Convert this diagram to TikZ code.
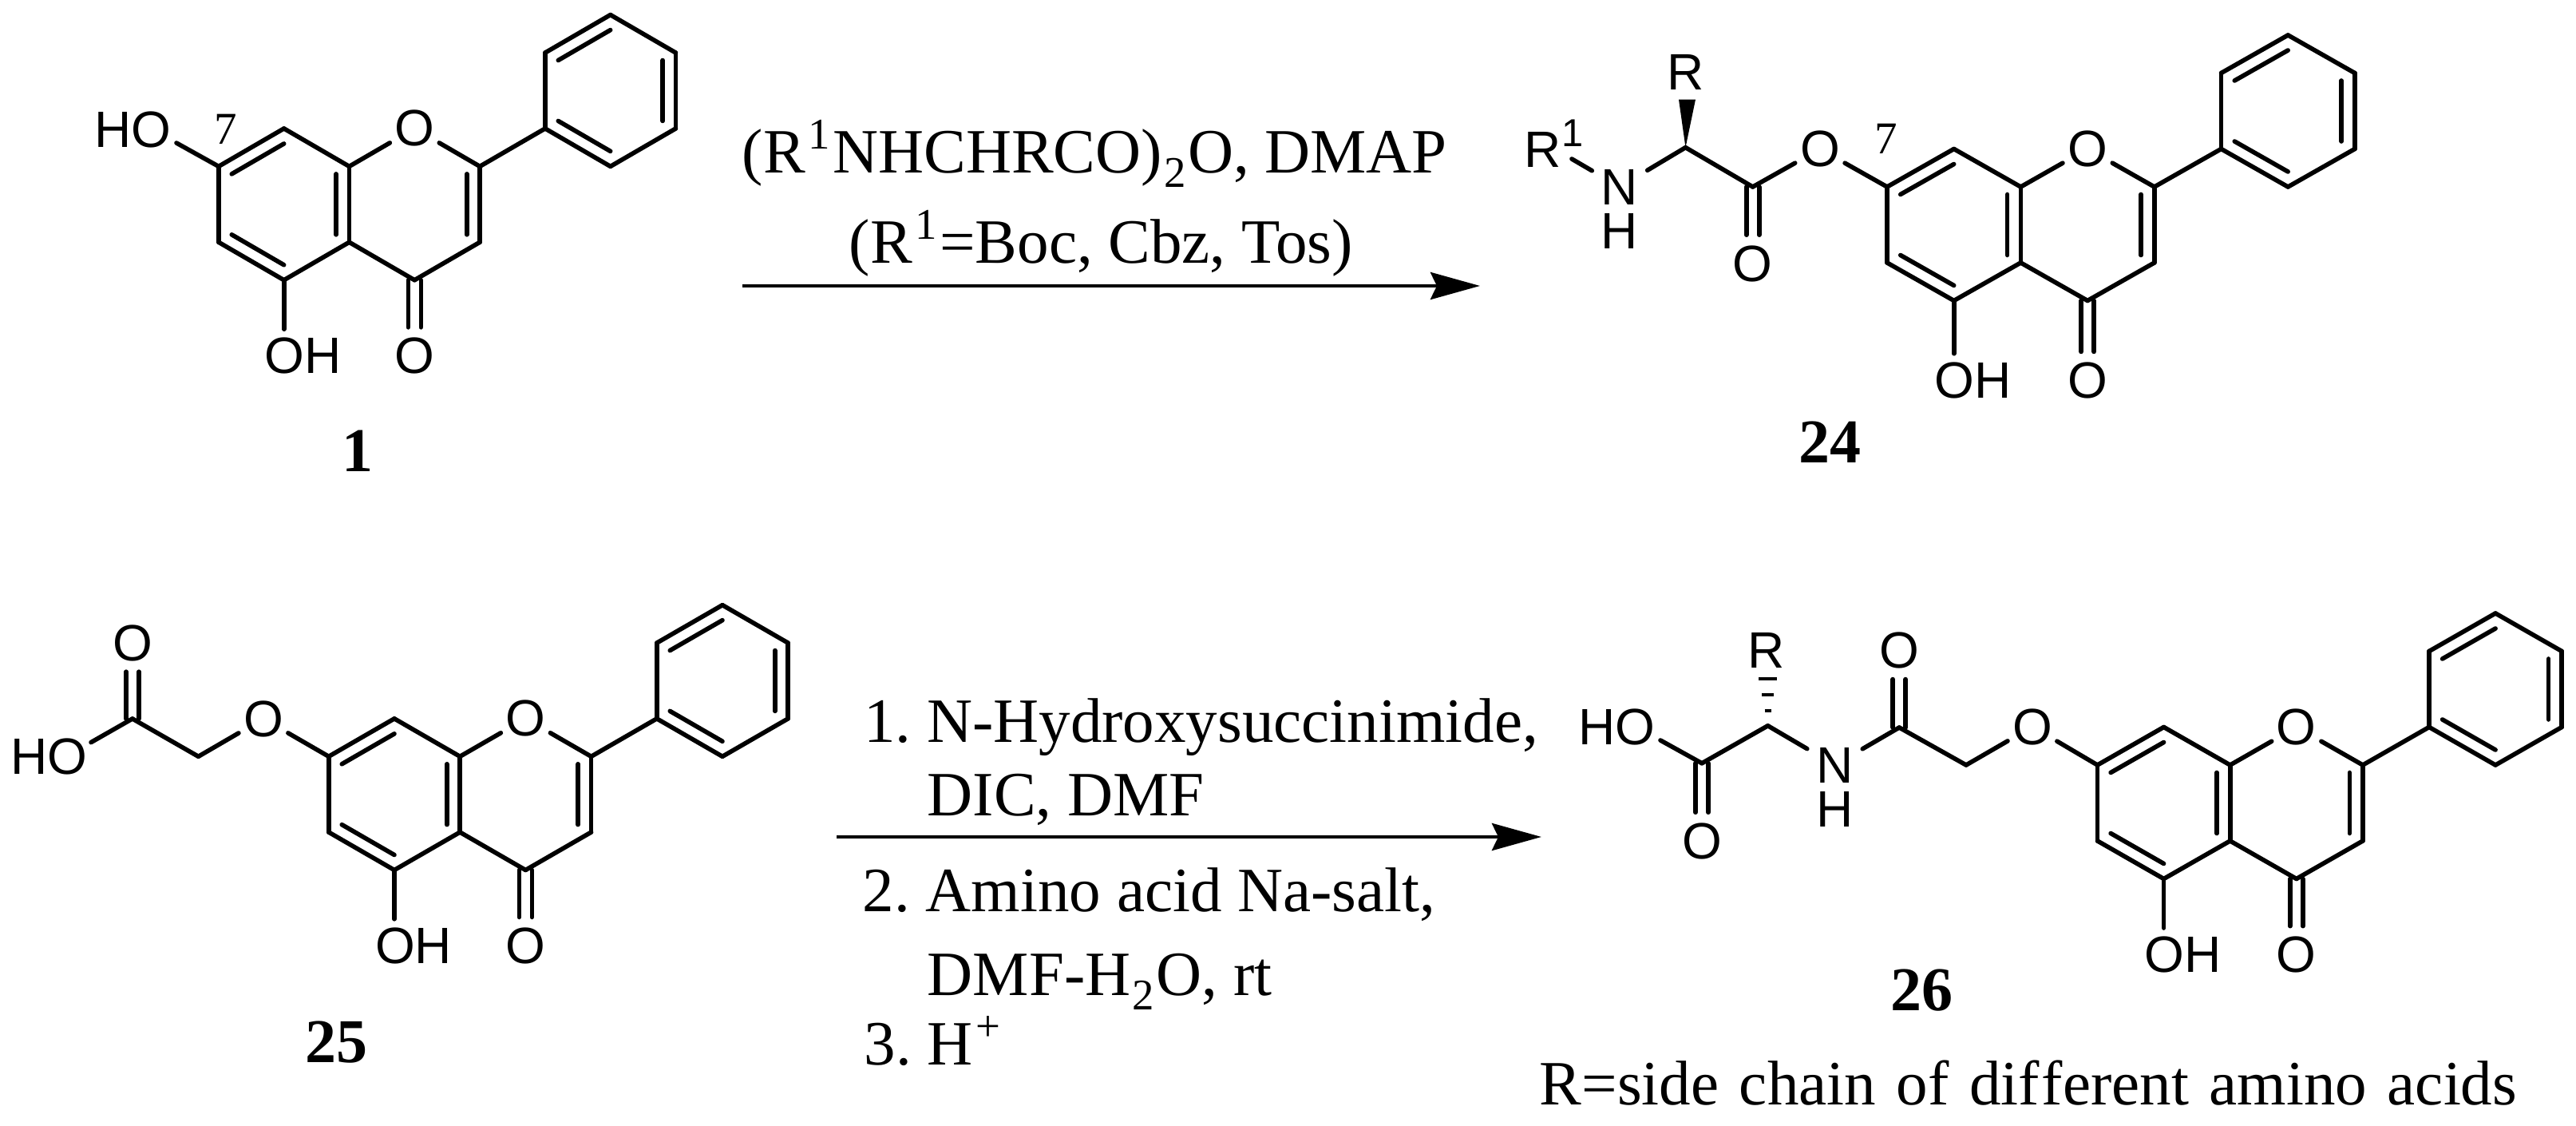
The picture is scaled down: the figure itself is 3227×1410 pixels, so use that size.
\documentclass[tikz,border=0pt]{standalone}
\usepackage{fontspec}
\setmainfont{Liberation Serif}
\setsansfont{Liberation Sans}
\usetikzlibrary{arrows.meta, calc}
\newcommand{\supa}[1]{\raisebox{6.7pt}{\fontsize{12.2}{14}\selectfont #1}}
\newcommand{\supb}[1]{\kern1pt\raisebox{7.5pt}{\fontsize{13.7}{16}\selectfont #1}\kern0.8pt}
\newcommand{\subb}[1]{\kern0.6pt\raisebox{-4.5pt}{\fontsize{13.7}{16}\selectfont #1}\kern0.6pt}
\tikzset{
  bond/.style={line width=1.4pt, line cap=round},
  bondl/.style={bond, transform canvas={xshift=-2pt}},
  bondr/.style={bond, transform canvas={xshift=2pt}},
  atom/.style={font=\sffamily\fontsize{16}{19}\selectfont, inner xsep=0pt, inner ysep=2.5pt},
  hetero/.style={atom, circle, inner sep=0pt, minimum size=17.5pt},
  nitro/.style={atom, inner xsep=2.7pt, inner ysep=0pt},
  amide/.style={atom, inner ysep=0pt},
  reagent/.style={font=\fontsize{19.75}{24}\selectfont, inner sep=0pt, anchor=base west},
  cmpd/.style={font=\bfseries\fontsize{19.5}{24}\selectfont, inner sep=0pt},
  posn/.style={font=\fontsize{14.25}{17}\selectfont, inner sep=0pt},
  rxn/.style={line width=1.2pt, -{Stealth[length=15.5pt, width=8.5pt, inset=2pt]}},
  pics/flavone/.style={code={
    % ring atoms, one unit across and half a bond down
    \coordinate (c7) at (0,0);
    \coordinate (c8) at (1,-1);
    \coordinate (c8a) at (2,0);
    \coordinate (c4a) at (2,2);
    \coordinate (c5) at (1,3);
    \coordinate (c6) at (0,2);
    \coordinate (c2) at (4,0);
    \coordinate (c3) at (4,2);
    \coordinate (c4) at (3,3);
    \coordinate (p1) at (5,-1);
    \coordinate (p2) at (5,-3);
    \coordinate (p3) at (6,-4);
    \coordinate (p4) at (7,-3);
    \coordinate (p5) at (7,-1);
    \coordinate (p6) at (6,0);
    \coordinate (ra) at (1,1);
    \coordinate (rc) at (3,1);
    \coordinate (rp) at (6,-2);
    \node[hetero] (o1) at (3,-1) {O};
    \node[hetero] (o4) at (3,#1) {O};
    \node[atom, anchor=west, xshift=-6.2pt] (oh) at (1,#1) {OH};
    \foreach \a/\b in {c7/c8, c8/c8a, c8a/c4a, c4a/c5, c5/c6, c6/c7, c8a/o1, o1/c2, c2/c3, c3/c4, c4/c4a, c2/p1, p1/p2, p2/p3, p3/p4, p4/p5, p5/p6, p6/p1}
      \draw[bond] (\a) -- (\b);
    % inner lines of the double bonds
    \foreach \a/\b/\c in {c7/c8/ra, c8a/c4a/ra, c5/c6/ra, c2/c3/rc, p2/p3/rp, p4/p5/rp, p6/p1/rp}
      \draw[bond] ($(\c)!0.8!(\a)$) -- ($(\c)!0.8!(\b)$);
    \draw[bond] (c5) -- (oh.north -| c5);
    \draw[bondl] (c4) -- (o4);
    \draw[bondr] (c4) -- (o4);
  }}
}
\begin{document}
\frenchspacing
\begin{tikzpicture}[x=0.25pt, y=-0.25pt]
  \path[use as bounding box] (0,0) rectangle (3227,1410);

  % Compound 1
  \coordinate (orga) at (273.9,208.4);
  \pic (ma) [x=81.8*0.25pt, y=-47.45*0.25pt] at (orga) {flavone=5};
  \node[atom, anchor=east] (hoa) at (215,162) {HO};
  \draw[bond] (mac7) -- ($(hoa.east)+(6,17)$);
  \node[posn] (sevena) at (283,162) {7};
  \node[cmpd] (labela) at (448.4,565) {1};

  % First arrow
  \node[reagent] (ra1) at (929,217) {(R\supb{1}NHCHRCO)\subb{2}O, DMAP};
  \node[reagent] (ra2) at (1063,330) {(R\supb{1}=Boc, Cbz, Tos)};
  \coordinate (aas) at (930,358);
  \coordinate (aae) at (1854,358);
  \draw[rxn] (aas) -- (aae);

  % Compound 24
  \coordinate (orgb) at (2364,234);
  \pic (mb) [x=83.7*0.25pt, y=-47.5*0.25pt] at (orgb) {flavone=5.1};
  \node[hetero] (obb) at (2279.9,186.6) {O};
  \coordinate (cob) at (2195.7,234);
  \node[hetero] (oab) at (2195.7,330) {O};
  \coordinate (cab) at (2111.5,184.7);
  \node[nitro] (nb) at (2029,234) {N};
  \node[amide] (hb) at (2029,289.4) {H};
  \node[atom] (rb) at (2111.5,90) {R};
  \node[atom, anchor=base west] (rob) at (1909,210) {R\supa{1}};
  \coordinate (wlb) at (2103,124.6);
  \coordinate (wrb) at (2124,124.6);
  \draw[bond] (mbc7) -- (obb);
  \draw[bond] (obb) -- (cob);
  \draw[bond] (cob) -- (cab);
  \draw[bond] (cab) -- (nb);
  \draw[bond] ($(rob.base east)+(-15,-11)$) -- (nb);
  \draw[bondl] (cob) -- (oab);
  \draw[bondr] (cob) -- (oab);
  \fill (cab) -- (wlb) -- (wrb) -- cycle;
  \node[posn] (sevenb) at (2363,174) {7};
  \node[cmpd] (labelb) at (2292.5,553.6) {24};

  % Compound 25
  \coordinate (orgc) at (411.8,947.3);
  \pic (mc) [x=82.2*0.25pt, y=-47.4*0.25pt] at (orgc) {flavone=5};
  \node[hetero] (obc) at (329.9,900) {O};
  \coordinate (chc) at (248.5,947.3);
  \coordinate (coc) at (165.9,900);
  \node[hetero] (oac) at (165.9,805.4) {O};
  \node[atom, anchor=east] (hoc) at (110,947.3) {HO};
  \draw[bond] (mcc7) -- (obc);
  \draw[bond] (obc) -- (chc);
  \draw[bond] (chc) -- (coc);
  \draw[bond] (coc) -- ($(hoc.east)+(4,-17.7)$);
  \draw[bondl] (coc) -- (oac);
  \draw[bondr] (coc) -- (oac);
  \node[cmpd] (labelc) at (421.6,1305) {25};

  % Second arrow
  \node[reagent] (rb1) at (1081.5,929.4) {1. N-Hydroxysuccinimide,};
  \node[reagent] (rb2) at (1161,1021.5) {DIC, DMF};
  \node[reagent] (rb3) at (1080,1142) {2. Amino acid Na-salt,};
  \node[reagent] (rb4) at (1161,1247) {DMF-H\subb{2}O, rt};
  \node[reagent] (rb5) at (1082,1334) {3. H\supb{+}};
  \coordinate (abs) at (1048,1048);
  \coordinate (abe) at (1931,1048);
  \draw[rxn] (abs) -- (abe);

  % Compound 26
  \coordinate (orgd) at (2627.5,958);
  \pic (md) [x=83.1*0.25pt, y=-47.5*0.25pt] at (orgd) {flavone=5};
  \node[hetero] (obd) at (2546,910) {O};
  \coordinate (chd) at (2463,958);
  \coordinate (cod) at (2379.2,911);
  \node[hetero] (oad) at (2379.2,814.8) {O};
  \node[nitro] (nd) at (2298.5,958) {N};
  \node[amide] (hd) at (2298.5,1013.5) {H};
  \coordinate (cad) at (2214.6,908.8);
  \node[atom] (rd) at (2213,814.8) {R};
  \coordinate (cbd) at (2132,955.8);
  \node[hetero] (ocd) at (2132,1053) {O};
  \node[atom, anchor=east] (hod) at (2074,910) {HO};
  \draw[bond] (mdc7) -- (obd);
  \draw[bond] (obd) -- (chd);
  \draw[bond] (chd) -- (cod);
  \draw[bond] (cod) -- (nd);
  \draw[bond] (nd) -- (cad);
  \draw[bond] (cad) -- (cbd);
  \draw[bond] (cbd) -- ($(hod.east)+(6,17)$);
  \draw[bondl] (cod) -- (oad);
  \draw[bondr] (cod) -- (oad);
  \draw[bondl] (cbd) -- (ocd);
  \draw[bondr] (cbd) -- (ocd);
  % hashed bond to R
  \foreach \yy/\ww in {850/11.5, 870/7.5, 890/4}
    \draw[line width=1.2pt] (2214.6-\ww,\yy) -- (2214.6+\ww,\yy);
  \node[cmpd] (labeld) at (2407.6,1240) {26};
  \node[reagent] (note) at (1928,1383) {\spaceskip=6.4pt R=side chain of dif\kern0.8pt ferent amino acids};
\end{tikzpicture}
\end{document}
